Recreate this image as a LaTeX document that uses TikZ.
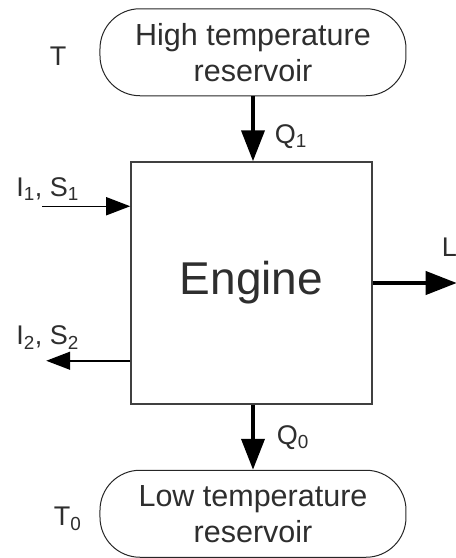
\documentclass[tikz,border=0pt]{standalone}
\usepackage{fontspec}
\setmainfont{Liberation Sans}
\usepackage{tikz}
\usetikzlibrary{arrows.meta,positioning}
\definecolor{inkgray}{HTML}{2E2E2E}
\tikzset{
  reservoirbox/.style={
    draw=black!85,
    line width=1pt,
    rounded corners=40pt,
    align=center,
    minimum width=306pt,
    minimum height=87pt,
    inner sep=0pt,
    text=inkgray,
    font=\fontsize{30.5}{36}\selectfont
  },
  enginebox/.style={
    draw=black!75,
    line width=1.5pt,
    minimum width=241pt,
    minimum height=242pt,
    inner sep=0pt,
    text=inkgray,
    font=\fontsize{46}{52}\selectfont
  },
  lbl/.style={
    inner sep=0pt,
    text=inkgray,
    font=\fontsize{27}{31}\selectfont
  },
  heatarrow/.style={
    -{Triangle[length=31pt,width=23pt]},
    line width=4pt
  },
  flowarrow/.style={
    -{Triangle[length=24pt,width=18pt]},
    line width=1.5pt
  }
}

\begin{document}
\begin{tikzpicture}[node distance=65pt]
  \useasboundingbox (-251.5pt,-275pt) rectangle (204.5pt,283pt);
  \node[enginebox] (engine) at (0,0) {Engine};
  \node[reservoirbox, above=of engine, xshift=1.5pt] (hot) {High temperature\\reservoir};
  \node[reservoirbox, below=of engine, xshift=1.5pt] (cold) {Low temperature\\reservoir};
  \node[lbl, left=33pt of hot, yshift=-3.5pt] (thot) {T};
  \node[lbl, left=18pt of cold, yshift=-5pt] (tcold) {T\textsubscript{0}};
  \draw[heatarrow] (hot) -- (hot |- engine.north)
    node[lbl, pos=0.62, right=20pt] (qhot) {Q\textsubscript{1}};
  \draw[heatarrow] (cold |- engine.south) -- (cold)
    node[lbl, pos=0.5, right=22pt] (qcold) {Q\textsubscript{0}};
  \coordinate (inS) at ([yshift=-45pt]engine.north west);
  \coordinate (srcA) at ([xshift=-88pt]inS);
  \coordinate (outS) at ([yshift=44pt]engine.south west);
  \coordinate (dstB) at ([xshift=-84pt]outS);
  \coordinate (lout) at ([xshift=84pt]engine.east);
  \draw[flowarrow] (srcA) -- (inS);
  \draw[flowarrow] (outS) -- (dstB);
  \draw[heatarrow] (engine.east) -- (lout);
  \node[lbl, anchor=base west, xshift=-26pt, yshift=10pt] (inlbl) at (srcA) {I\textsubscript{1}, S\textsubscript{1}};
  \node[lbl, anchor=base west, xshift=-30pt, yshift=16pt] (outlbl) at (dstB) {I\textsubscript{2}, S\textsubscript{2}};
  \node[lbl, anchor=base west, xshift=-15pt, yshift=27pt] (worklbl) at (lout) {L};
\end{tikzpicture}
\end{document}
